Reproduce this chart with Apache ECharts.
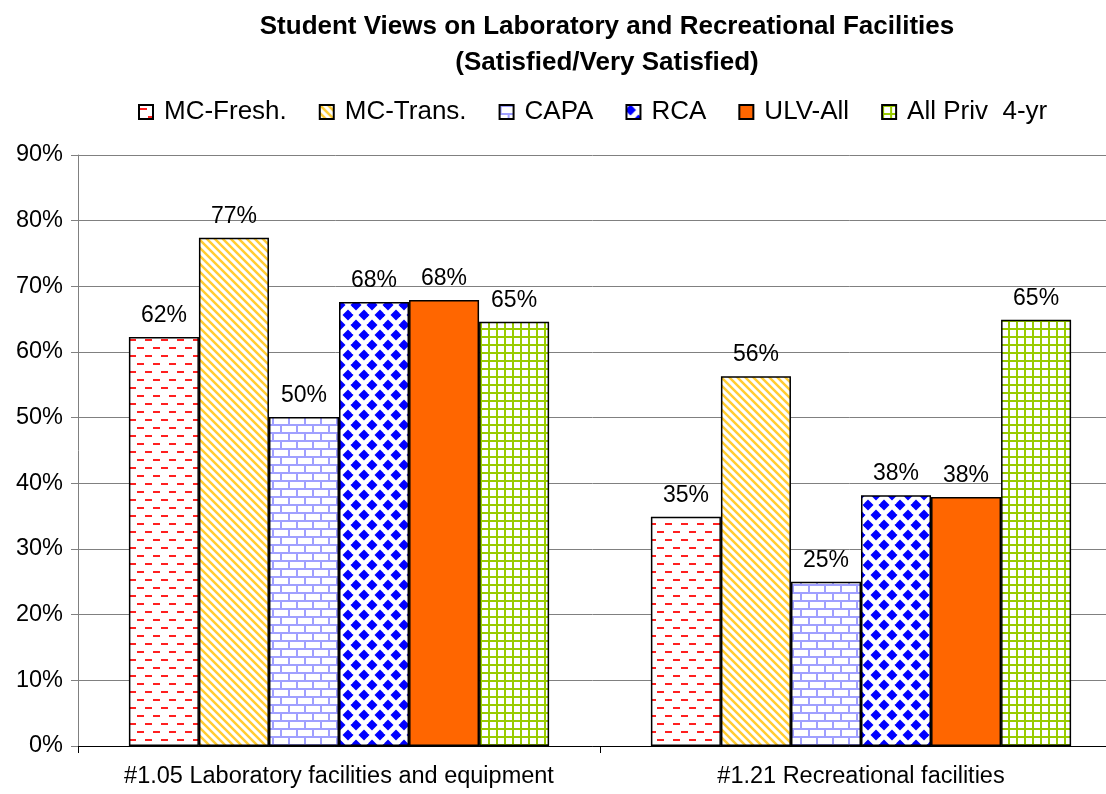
<!DOCTYPE html>
<html>
<head>
<meta charset="utf-8">
<script src="https://cdn.jsdelivr.net/npm/echarts@6/dist/echarts.min.js"></script>
<style>
    html, body { margin: 0; padding: 0; background: #fff; }
    #chart { width: 1106px; height: 794px; }
</style>
</head>
<body>
<div id="chart"></div>
<script>
    // data
    var categories = ['#1.05 Laboratory facilities and equipment', '#1.21 Recreational facilities'];
    var seriesNames = ['MC-Fresh.', 'MC-Trans.', 'CAPA', 'RCA', 'ULV-All', 'All Priv  4-yr'];
    var mcFresh = [62.3, 34.9];
    var mcTrans = [77.4, 56.3];
    var capa = [50.1, 25.0];
    var rca = [67.6, 38.2];
    var ulvAll = [67.9, 37.9];
    var allPriv = [64.6, 64.9];
    var yTicks = [0, 10, 20, 30, 40, 50, 60, 70, 80, 90];

    var FONT = '"Liberation Sans", Arial, sans-serif';

    function makePattern(w, h, draw) {
        var c = document.createElement('canvas');
        c.width = w;
        c.height = h;
        var ctx = c.getContext('2d');
        ctx.fillStyle = '#fff';
        ctx.fillRect(0, 0, w, h);
        draw(ctx);
        return { image: c, repeat: 'repeat' };
    }

    // red dashes
    var freshFill = makePattern(16, 16, function (ctx) {
        ctx.fillStyle = '#ff2020';
        ctx.fillRect(1, 3, 7, 2);
        ctx.fillRect(9, 11, 7, 2);
    });
    // yellow diagonal stripes
    var transFill = makePattern(8, 8, function (ctx) {
        ctx.strokeStyle = '#ffcc33';
        ctx.lineWidth = 2.5;
        ctx.beginPath();
        ctx.moveTo(-2, -2); ctx.lineTo(10, 10);
        ctx.moveTo(-2, 6); ctx.lineTo(2, 10);
        ctx.moveTo(6, -2); ctx.lineTo(10, 2);
        ctx.stroke();
    });
    // lavender bricks
    var capaFill = makePattern(16, 16, function (ctx) {
        ctx.fillStyle = '#a0a0ff';
        ctx.fillRect(0, 0, 16, 2);
        ctx.fillRect(0, 8, 16, 2);
        ctx.fillRect(0, 0, 2, 8);
        ctx.fillRect(8, 8, 2, 8);
    });
    // blue diamonds
    var rcaFill = makePattern(16, 20, function (ctx) {
        ctx.fillStyle = '#0000ff';
        function diamond(cx, cy, r) {
            ctx.beginPath();
            ctx.moveTo(cx, cy - r);
            ctx.lineTo(cx + r, cy);
            ctx.lineTo(cx, cy + r);
            ctx.lineTo(cx - r, cy);
            ctx.closePath();
            ctx.fill();
        }
        diamond(4, 5, 5.5);
        diamond(12, 15, 5.5);
        diamond(20, 5, 5.5);
        diamond(-4, 15, 5.5);
        diamond(12, -5, 5.5);
        diamond(4, 25, 5.5);
    });
    // green grid
    var privFill = makePattern(8, 8, function (ctx) {
        ctx.fillStyle = '#99cc00';
        ctx.fillRect(0, 0, 8, 2);
        ctx.fillRect(0, 0, 2, 8);
    });

    var fills = [freshFill, transFill, capaFill, rcaFill, '#ff6600', privFill];
    var values = [mcFresh, mcTrans, capa, rca, ulvAll, allPriv];

    var series = seriesNames.map(function (name, i) {
        return {
            name: name,
            type: 'bar',
            data: values[i],
            barGap: '0%',
            barCategoryGap: '19.5%',
            itemStyle: {
                color: fills[i],
                borderColor: '#000',
                borderWidth: 1.5
            },
            label: {
                show: true,
                position: 'top',
                distance: 10,
                color: '#000',
                fontFamily: FONT,
                fontSize: 23,
                formatter: function (p) { return Math.round(p.value) + '%'; }
            }
        };
    });

    var myChart = echarts.init(document.getElementById('chart'));
    myChart.setOption({
        animation: false,
        backgroundColor: '#fff',
        title: {
            text: 'Student Views on Laboratory and Recreational Facilities\n(Satisfied/Very Satisfied)',
            left: 602,
            top: 4,
            textAlign: 'center',
            textStyle: {
                fontFamily: FONT,
                fontSize: 26,
                fontWeight: 'bold',
                color: '#000',
                lineHeight: 36
            }
        },
        legend: {
            left: 133,
            top: 94,
            icon: 'rect',
            itemWidth: 14,
            itemHeight: 14,
            itemGap: 32,
            textStyle: {
                fontFamily: FONT,
                fontSize: 26,
                color: '#000',
                padding: [0, 0, 0, 6]
            },
            data: seriesNames
        },
        grid: {
            left: 78,
            top: 155,
            width: 1044,
            bottom: 48,
            outerBoundsMode: 'none',
            containLabel: false
        },
        xAxis: {
            type: 'category',
            data: categories,
            axisLine: { lineStyle: { color: '#000', width: 1 } },
            axisTick: { show: true, interval: 0, length: 7, lineStyle: { color: '#000' } },
            axisLabel: {
                interval: 0,
                hideOverlap: false,
                fontFamily: FONT,
                fontSize: 23.5,
                color: '#000',
                margin: 19
            }
        },
        yAxis: {
            type: 'value',
            min: yTicks[0],
            max: yTicks[yTicks.length - 1],
            interval: 10,
            axisLine: { show: true, lineStyle: { color: '#808080' } },
            axisTick: { show: true, length: 7, lineStyle: { color: '#808080' } },
            axisLabel: {
                fontFamily: FONT,
                fontSize: 23.5,
                color: '#000',
                margin: 15,
                formatter: '{value}%'
            },
            splitLine: { show: true, lineStyle: { color: '#808080', width: 1 } }
        },
        series: series
    });
</script>
</body>
</html>
